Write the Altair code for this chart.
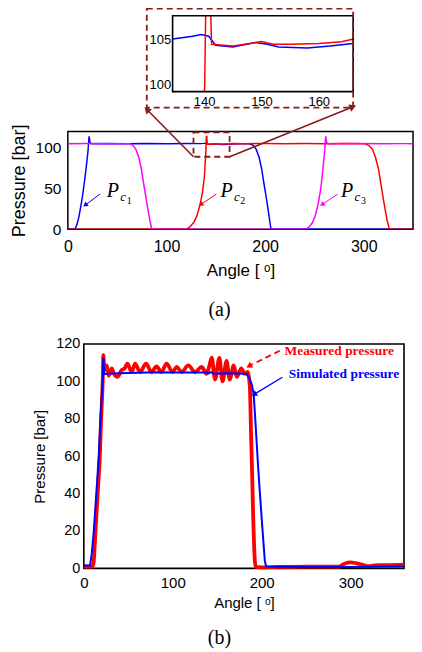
import math
import altair as alt
import pandas as pd

# ---------------- data ----------------
# (a) chamber pressures [bar] vs shaft angle [deg]
pc1_angle = [0, 7, 9, 11, 13, 15, 17, 19, 20.5, 21.5, 22.5, 24, 40, 60, 80, 100, 120, 134.5, 138, 139.5,
             140.8, 142, 145, 149, 151, 153, 158, 162, 166, 175, 184, 188, 191, 194, 196.5, 199, 202, 204.5, 206, 360]
pc1_value = [0, 0, 5, 14, 27, 42, 60, 80, 97, 114, 106, 105, 105.3, 104.8, 105.4, 105, 105.3, 105.1, 105.4, 105.6,
             105.4, 104.4, 104.2, 104.7, 104.5, 104.2, 104.1, 104.3, 104.6, 104.8, 105, 103, 98, 88, 74, 55, 33, 12, 0, 0]

pc2_angle = [0, 120, 124, 128, 131, 134, 136.5, 138.5, 139.9, 140.1, 140.4, 140.9, 141.3, 145, 148, 150, 152, 155, 160, 164,
             166, 180, 200, 220, 240, 260, 280, 301, 305, 309, 312, 315, 317.5, 320.5, 323.5, 326, 360]
pc2_value = [0, 0, 3, 9, 17, 30, 45, 65, 95, 100, 114, 114, 104.5, 104.3, 104.6, 104.8, 104.5, 104.5, 104.6, 104.8,
             105.1, 105, 105.3, 104.9, 105.2, 105, 105.3, 105, 103, 98, 88, 74, 55, 33, 12, 0, 0]

pc3_angle = [0, 20, 40, 63, 66, 69, 72, 74.5, 77, 80, 83, 85, 241, 245, 248, 251, 254, 256.5, 258.5, 260.5,
             261.5, 262.5, 264, 290, 320, 340, 360]
pc3_value = [105, 105.2, 104.9, 105, 103, 98, 88, 74, 55, 33, 12, 0, 0, 3, 8, 17, 32, 50, 72, 97,
             114, 106, 105, 105.2, 104.9, 105.1, 105]

pc_label_angle = [39.4, 154.7, 277.0]
pc_label_value = [39.2, 39.2, 39.2]
pc_label_sub = ["1", "2", "3"]
pc_arrow_from_angle = [32.7, 150.7, 273.7]
pc_arrow_from_value = [43.3, 43.3, 43.3]
pc_arrow_to_angle = [18.2, 135.5, 258.5]
pc_arrow_to_value = [30.1, 30.9, 30.9]

zoom_box_angle = [127.4, 164.0]
zoom_box_value = [89.0, 119.0]
zoom_link_from_angle = [127.4, 164.0]
zoom_link_from_value = [89.0, 89.0]
zoom_link_to_angle = [80.9, 288.0]
zoom_link_to_value = [146.0, 149.7]

inset_range = [134.5, 166.0]
inset_box_angle = [130.0, 166.0]
inset_box_value = [97.4, 108.5]

# (b) measured vs simulated pressure
meas_angle = [0, 9.4, 11, 13.1, 15.7, 18, 19.5, 21.3, 22, 23, 25.8, 28, 31.4, 34, 37.7, 42.6, 46, 49, 53.8, 57.6,
              63.2, 70, 76, 81.7, 87.3, 93, 99.7, 104.4, 110, 117.5, 125, 132.5, 138, 141, 143.8, 147.5, 152.4, 156,
              160.5, 164, 168.5, 172, 177, 181, 184, 186.7, 188, 189, 190.4, 192.3, 193, 200, 220, 250, 287, 293,
              300, 306, 313, 319.5, 330, 345, 360]
meas_value = [1, 1, 3, 20, 41, 60, 80, 101, 114, 106, 108.6, 103, 107, 104, 102.4, 106, 107, 109.5, 105, 109.5,
              105, 109.5, 105, 108, 105, 109.5, 105, 107.7, 105, 108.5, 105, 107.7, 104, 108, 112.7, 101, 112.5, 100,
              111, 101, 108.5, 102.4, 107, 104, 105, 97, 72, 55, 28, 4, 0.8, 0.6, 0.8, 1, 1, 2.5,
              3.2, 2.8, 2, 1.2, 1.8, 1.8, 2]

sim_angle = [0, 7, 9, 11.2, 14.2, 16.8, 18.7, 21.3, 22, 23, 40, 60, 80, 100, 120, 137, 140, 143, 146, 160,
             175, 183, 186, 189, 191, 193, 196, 198, 201, 203.5, 205, 250, 300, 360]
sim_value = [1.5, 1.5, 8, 20, 41, 60, 80, 101, 113, 104, 104.3, 104.6, 104.9, 104.8, 104.7, 104.8, 104.2, 104.9, 104.1, 104.3,
             104.2, 104, 102, 98, 93, 78, 54, 40, 20, 4, 1, 0.8, 0.8, 1.0]

legend_text = ["Measured pressure", "Simulated pressure"]
legend_angle = [225.6, 230.4]
legend_value = [114.1, 101.7]
legend_arrow_from_angle = [220.3, 223.3]
legend_arrow_from_value = [116.4, 102.2]
legend_arrow_to_angle = [186.6, 192.3]
legend_arrow_to_value = [108.4, 93.3]

# ---------------- style / layout ----------------
SANS = "Liberation Sans"
SERIF = "Liberation Serif"
BLUE, RED, MAG, DR = "#0000ff", "#ff0000", "#ff00ff", "#8b1a1a"

GAP = 40                      # vertical gap between stacked plots
A_W, A_H, A_X, A_Y = 346, 98, [0, 350], [0, 120]

# inset: real plot 181x76, shifted right by 105 px from the panel (a) left edge
I_W, I_H, I_SHIFT, I_Y = 181, 76, 105, [99.2, 107.7]
i_ppu = I_W / (inset_range[1] - inset_range[0])
I_X = [inset_range[0] - I_SHIFT / i_ppu, inset_range[1]]
I_WT = I_W + I_SHIFT

# panel (b): real plot 321x225, shifted right 16 px and down 75 px extra
B_W, B_H, B_SHIFT, B_TOP = 321, 225, 16, 75
b_xr, b_yr = [0, 360], [0, 120]
b_ppx = B_W / (b_xr[1] - b_xr[0])
b_ppy = B_H / (b_yr[1] - b_yr[0])
B_X = [b_xr[0] - B_SHIFT / b_ppx, b_xr[1]]
B_Y = [b_yr[0], b_yr[1] + B_TOP / b_ppy]
B_WT, B_HT = B_W + B_SHIFT, B_H + B_TOP

AXC = dict(grid=False, ticks=False, domain=False, labelColor="black", titleColor="black",
           labelFont=SANS, titleFont=SANS, titleFontWeight="normal", labelFlush=False, labelOverlap=False)

ax_a_x = alt.Axis(title="Angle [ ᵒ]", values=[0, 100, 200, 300], format="d", labelFontSize=16,
                  titleFontSize=17, labelPadding=9, titlePadding=8, **AXC)
ax_a_y = alt.Axis(title="Pressure [bar]", values=[0, 50, 100], format="d", labelFontSize=15.5,
                  titleFontSize=18, labelPadding=7, titlePadding=7, **AXC)
ax_i_x = alt.Axis(title=None, values=[140, 150, 160], format="d", labelFontSize=13, labelPadding=4, **AXC)
ax_i_y = alt.Axis(title=None, values=[100, 105], format="d", labelFontSize=13, labelPadding=2,
                  offset=-I_SHIFT, **AXC)
ax_b_x = alt.Axis(title="Angle [ ᵒ]", values=[0, 100, 200, 300], format="d", labelFontSize=15,
                  titleFontSize=15, labelPadding=7, titlePadding=5, titleX=B_SHIFT + B_W / 2, **AXC)
ax_b_y = alt.Axis(title="Pressure [bar]", values=[0, 20, 40, 60, 80, 100, 120], format="d", labelFontSize=14.5,
                  titleFontSize=15, labelPadding=4, titlePadding=8, offset=-B_SHIFT,
                  titleY=B_TOP + B_H / 2, **AXC)


def enc(field, dom, axis, ch):
    sc = alt.Scale(domain=dom, nice=False, zero=False)
    if ch == "x":
        return alt.X(field, type="quantitative", scale=sc, axis=axis)
    return alt.Y(field, type="quantitative", scale=sc, axis=axis)


def head_angle(x0, y0, x1, y1, sx, sy):
    a = math.degrees(math.atan2(-(y1 - y0) * sy, (x1 - x0) * sx)) + 90
    return a % 360


def line(a, v, color, xd, yd, axx, axy, width=1.5, clip=False, interp="linear", keep=None):
    df = pd.DataFrame({"angle": a, "p": v})
    ch = alt.Chart(df)
    if keep is not None:
        ch = ch.transform_filter(alt.FieldRangePredicate(field="angle", range=keep))
    return ch.mark_line(color=color, strokeWidth=width, clip=clip, interpolate=interp).encode(
        x=enc("angle", xd, axx, "x"), y=enc("p", yd, axy, "y"))


def arrows(x0, y0, x1, y1, colors, xd, yd, axx, axy, sx, sy, dash=None, width=1.0, size=35):
    df = pd.DataFrame({"x0": x0, "y0": y0, "x1": x1, "y1": y1, "col": colors,
                       "ang": [head_angle(a, b, c, d, sx, sy) for a, b, c, d in zip(x0, y0, x1, y1)]})
    rk = dict(strokeWidth=width)
    if dash:
        rk["strokeDash"] = dash
    shaft = alt.Chart(df).mark_rule(**rk).encode(
        x=enc("x0", xd, axx, "x"), y=enc("y0", yd, axy, "y"), x2="x1", y2="y1",
        color=alt.Color("col:N", scale=None))
    head = alt.Chart(df).mark_point(shape="triangle", filled=True, size=size, opacity=1).encode(
        x=enc("x1", xd, axx, "x"), y=enc("y1", yd, axy, "y"),
        angle=alt.Angle("ang:Q", scale=None), color=alt.Color("col:N", scale=None))
    return [shaft, head]


def box(xs, ys, xd, yd, axx, axy, color, width, dash=None):
    df = pd.DataFrame({"x0": [xs[0]], "x1": [xs[1]], "y0": [ys[0]], "y1": [ys[1]]})
    kw = dict(fillOpacity=0, stroke=color, strokeWidth=width)
    if dash:
        kw["strokeDash"] = dash
    return alt.Chart(df).mark_rect(**kw).encode(
        x=enc("x0", xd, axx, "x"), x2="x1", y=enc("y0", yd, axy, "y"), y2="y1")


FRAME = alt.ViewBackground(stroke="black", strokeWidth=1.5)
NOFRAME = alt.ViewBackground(strokeOpacity=0)

# ---------------- inset ----------------
inset = alt.layer(
    line(pc1_angle, pc1_value, BLUE, I_X, I_Y, ax_i_x, ax_i_y, clip=True, keep=inset_range),
    line(pc2_angle, pc2_value, RED, I_X, I_Y, ax_i_x, ax_i_y, clip=True, keep=inset_range),
    box(inset_range, I_Y, I_X, I_Y, ax_i_x, ax_i_y, "black", 1.6),
    box(inset_box_angle, inset_box_value, I_X, I_Y, ax_i_x, ax_i_y, DR, 1.8, dash=[6, 4]),
).properties(width=I_WT, height=I_H, view=NOFRAME)

# ---------------- panel (a) ----------------
a_sx, a_sy = A_W / (A_X[1] - A_X[0]), A_H / (A_Y[1] - A_Y[0])
lab_df = pd.DataFrame({"x": pc_label_angle, "y": pc_label_value, "sub": pc_label_sub})
P = alt.Chart(lab_df).mark_text(text="P", font=SERIF, fontStyle="italic", fontSize=20, align="left",
                                baseline="alphabetic", color="black").encode(
    x=enc("x", A_X, ax_a_x, "x"), y=enc("y", A_Y, ax_a_y, "y"))
C = alt.Chart(lab_df).mark_text(text="c", font=SERIF, fontStyle="italic", fontSize=13, align="left",
                                baseline="alphabetic", color="black", dx=13.5, dy=3.5).encode(
    x=enc("x", A_X, ax_a_x, "x"), y=enc("y", A_Y, ax_a_y, "y"))
N = alt.Chart(lab_df).mark_text(font=SERIF, fontSize=10, align="left", baseline="alphabetic",
                                color="black", dx=20, dy=7).encode(
    x=enc("x", A_X, ax_a_x, "x"), y=enc("y", A_Y, ax_a_y, "y"), text="sub:N")

panel_a = alt.layer(
    line(pc1_angle, pc1_value, BLUE, A_X, A_Y, ax_a_x, ax_a_y, clip=True),
    line(pc2_angle, pc2_value, RED, A_X, A_Y, ax_a_x, ax_a_y, clip=True),
    line(pc3_angle, pc3_value, MAG, A_X, A_Y, ax_a_x, ax_a_y, clip=True),
    box(zoom_box_angle, zoom_box_value, A_X, A_Y, ax_a_x, ax_a_y, DR, 1.8, dash=[6, 4]),
    *arrows(zoom_link_from_angle, zoom_link_from_value, zoom_link_to_angle, zoom_link_to_value,
            [DR, DR], A_X, A_Y, ax_a_x, ax_a_y, a_sx, a_sy, width=1.6, size=60),
    *arrows(pc_arrow_from_angle, pc_arrow_from_value, pc_arrow_to_angle, pc_arrow_to_value,
            [BLUE, RED, MAG], A_X, A_Y, ax_a_x, ax_a_y, a_sx, a_sy, width=1.0, size=30),
    P, C, N,
).properties(width=A_W, height=A_H, view=FRAME,
             title=alt.TitleParams("(a)", orient="bottom", anchor="middle", frame="group", font=SERIF,
                                   fontSize=20, fontWeight="normal", color="black", offset=22, dx=-21))

# ---------------- panel (b) ----------------
leg_df = pd.DataFrame({"x": legend_angle, "y": legend_value, "t": legend_text, "col": [RED, BLUE]})
leg = alt.Chart(leg_df).mark_text(font=SERIF, fontWeight="bold", fontSize=13.5, align="left",
                                  baseline="alphabetic").encode(
    x=enc("x", B_X, ax_b_x, "x"), y=enc("y", B_Y, ax_b_y, "y"), text="t:N",
    color=alt.Color("col:N", scale=None))

panel_b = alt.layer(
    box(b_xr, b_yr, B_X, B_Y, ax_b_x, ax_b_y, "black", 1.6),
    line(meas_angle, meas_value, RED, B_X, B_Y, ax_b_x, ax_b_y, width=3.8, interp="monotone"),
    line(sim_angle, sim_value, BLUE, B_X, B_Y, ax_b_x, ax_b_y, width=2.0),
    *arrows(legend_arrow_from_angle[:1], legend_arrow_from_value[:1], legend_arrow_to_angle[:1],
            legend_arrow_to_value[:1], [RED], B_X, B_Y, ax_b_x, ax_b_y, b_ppx, b_ppy,
            dash=[6, 4], width=1.8, size=45),
    *arrows(legend_arrow_from_angle[1:], legend_arrow_from_value[1:], legend_arrow_to_angle[1:],
            legend_arrow_to_value[1:], [BLUE], B_X, B_Y, ax_b_x, ax_b_y, b_ppx, b_ppy, width=1.3, size=40),
    leg,
).properties(width=B_WT, height=B_HT, view=NOFRAME,
             title=alt.TitleParams("(b)", orient="bottom", anchor="middle", frame="group", font=SERIF,
                                   fontSize=20, fontWeight="normal", color="black", offset=18, dx=-16.5))

chart = alt.vconcat(inset, panel_a, panel_b, spacing=GAP, bounds="flush").properties(
    padding={"left": 1, "top": -2, "right": 0, "bottom": 0})

chart.save("out.html", embed_options={"renderer": "svg", "actions": False})
